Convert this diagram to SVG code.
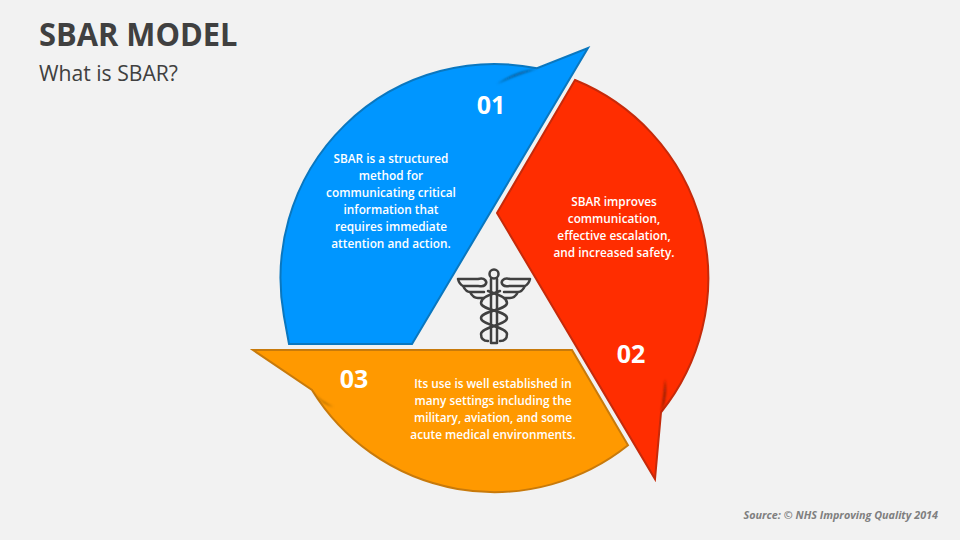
<svg xmlns="http://www.w3.org/2000/svg" width="960" height="540" viewBox="0 0 960 540">
<style>
text{font-family:"Open Sans","Liberation Sans",sans-serif}
.b{fill:#fff;font-size:11.8px;font-weight:600;text-anchor:middle}
.n{fill:#fff;font-size:25px;font-weight:700;text-anchor:middle}
.s{stroke-width:2;stroke-linejoin:miter}
.i{fill:none;stroke:#404040;stroke-width:2.5;stroke-linecap:round;stroke-linejoin:round}
</style>
<defs><filter id="bl" x="-30%" y="-30%" width="160%" height="160%"><feGaussianBlur stdDeviation="1"/></filter></defs>
<rect width="960" height="540" fill="#f2f2f2"/>
<text x="39" y="46" font-size="32" font-weight="700" fill="#404040" textLength="198.5" lengthAdjust="spacingAndGlyphs">SBAR MODEL</text>
<text x="39" y="81" font-size="21" fill="#404040" textLength="139" lengthAdjust="spacingAndGlyphs">What is SBAR?</text>
<g id="connectors"></g>
<g id="node-01">
<path class="s" d="M588 48L412 344H289L283.9 316A214 214 0 0 1 537 68.3Z" fill="#0096ff" stroke="#0a77bf"/>
<path d="M497 84C510 75 523 70 537 69C524 73 510 78 497 84Z" fill="#0a5f99" filter="url(#bl)"/>
<text class="n" x="491" y="114">01</text>
<text class="b"><tspan x="391" y="163">SBAR is a structured</tspan><tspan x="391" y="180">method for</tspan><tspan x="391" y="197">communicating critical</tspan><tspan x="391" y="214">information that</tspan><tspan x="391" y="231">requires immediate</tspan><tspan x="391" y="248">attention and action.</tspan></text>
</g>
<g id="node-02">
<path class="s" d="M575 80L497 213L655 479L661 412.4A214 214 0 0 0 575 80Z" fill="#ff2d00" stroke="#c62a0a"/>
<path d="M665 379C667 390 666 402 661 412C663 401 664 390 665 379Z" fill="#8f2008" filter="url(#bl)"/>
<text class="n" x="631" y="363">02</text>
<text class="b"><tspan x="614" y="206">SBAR improves</tspan><tspan x="614" y="223">communication,</tspan><tspan x="614" y="240">effective escalation,</tspan><tspan x="614" y="257">and increased safety.</tspan></text>
</g>
<g id="node-03">
<path class="s" d="M253 350H572L628 445.3A214 214 0 0 1 312 390Z" fill="#ff9900" stroke="#c87a0b"/>
<path d="M312 391C318 398 325 403 334 407C325 405 318 399 312 391Z" fill="#8f5a08" filter="url(#bl)"/>
<text class="n" x="354" y="388">03</text>
<text class="b"><tspan x="493" y="388">Its use is well established in</tspan><tspan x="493" y="405">many settings including the</tspan><tspan x="493" y="422">military, aviation, and some</tspan><tspan x="493" y="439">acute medical environments.</tspan></text>
</g>
<g id="caduceus" class="i">
<circle cx="494" cy="274" r="4.5"/>
<path d="M491 279V343H497V279"/>
<path d="M458 279H478C485 277 488 282 485 285C483 287 481 286 478 286H463M458 279C459 283 461 285 463 286C465 290 467 292 470 292H484M470 292C472 296 475 298 478 298H484"/>
<path d="M530 279H510C503 277 500 282 503 285C505 287 507 286 510 286H525M530 279C529 283 527 285 525 286C523 290 521 292 518 292H504M518 292C516 296 513 298 510 298H504"/>
<path d="M500 291C490 295 481 297 481 303C481 310 507 311 507 318C507 325 481 327 481 334C481 339 484 341 488 341"/>
<path d="M488 291C498 295 507 297 507 303C507 310 481 311 481 318C481 325 507 327 507 334C507 339 504 341 500 341"/>
</g>
<text x="938" y="519" font-size="10.8" font-weight="700" font-style="italic" fill="#7f7f7f" text-anchor="end">Source: © NHS Improving Quality 2014</text>
</svg>
